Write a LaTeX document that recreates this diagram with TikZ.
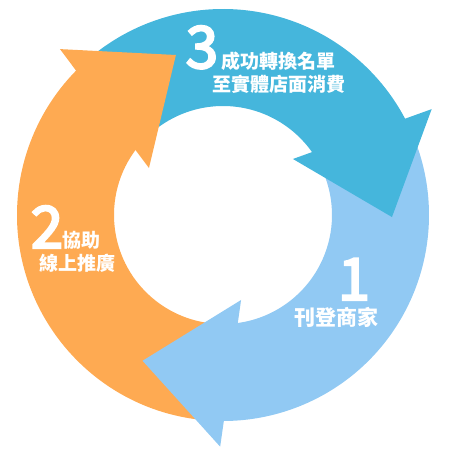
\documentclass[tikz,border=0pt]{standalone}
\usepackage{fontspec}
\newfontfamily\cjk{Noto Sans CJK TC}
\newfontfamily\cjkdig{Noto Sans CJK TC}[FakeBold=4]
\definecolor{cblue}{RGB}{69,182,220}
\definecolor{clight}{RGB}{145,201,243}
\definecolor{corange}{RGB}{254,170,82}
\begin{document}
\begin{tikzpicture}[x=1pt,y=1pt,
  lbl/.style={text=white,inner sep=0pt,font=\cjk\bfseries\fontsize{19}{19}\selectfont},
  lblbig/.style={text=white,inner sep=0pt,font=\cjk\bfseries\fontsize{21}{21}\selectfont},
  digit/.style={text=white,inner sep=0pt,anchor=base,font=\cjkdig\fontsize{58}{58}\selectfont}]
\useasboundingbox (0,0) rectangle (450,450);
\def\Ro{206}\def\Ri{109}
\begin{scope}[shift={(223,235)}]
% bodies
\fill[cblue] (128:\Ro pt) arc[start angle=128,end angle=26.5,radius=\Ro pt]
   -- (34:\Ri pt) arc[start angle=34,end angle=132,radius=\Ri pt] -- cycle;
\fill[clight] (22:\Ro pt) arc[start angle=22,end angle=-92,radius=\Ro pt]
   -- (-84:\Ri pt) arc[start angle=-84,end angle=22,radius=\Ri pt] -- cycle;
\fill[corange] (265:\Ro pt) arc[start angle=265,end angle=132.5,radius=\Ro pt]
   -- (142:\Ri pt) arc[start angle=142,end angle=265,radius=\Ri pt] -- cycle;
% heads
\fill[cblue] (26.9:234pt) -- (-0.7:169pt) -- (38.7:89.6pt) -- cycle;
\fill[clight] (269.3:231.7pt) -- (241.1:166.5pt) -- (282:86.9pt) -- cycle;
\fill[corange] (134.5:232.6pt) -- (106.4:166.8pt) -- (147.6:87.7pt) -- cycle;
\end{scope}
% texts
\node[digit] (n3) at (202,382) {3};
\node[lbl] (t3a) at (278.5,388.5) {成功轉換名單};
\node[lbl] (t3b) at (278.5,365.5) {至實體店面消費};
\node[digit] (n2) at (47,202) {2};
\node[lbl] (t2a) at (81.5,210) {協助};
\node[lbl] (t2b) at (77,186.5) {線上推廣};
\node[digit] (n1) at (354,150) {1};
\node[lblbig] (t1) at (336.5,132.5) {刊登商家};
\end{tikzpicture}
\end{document}
